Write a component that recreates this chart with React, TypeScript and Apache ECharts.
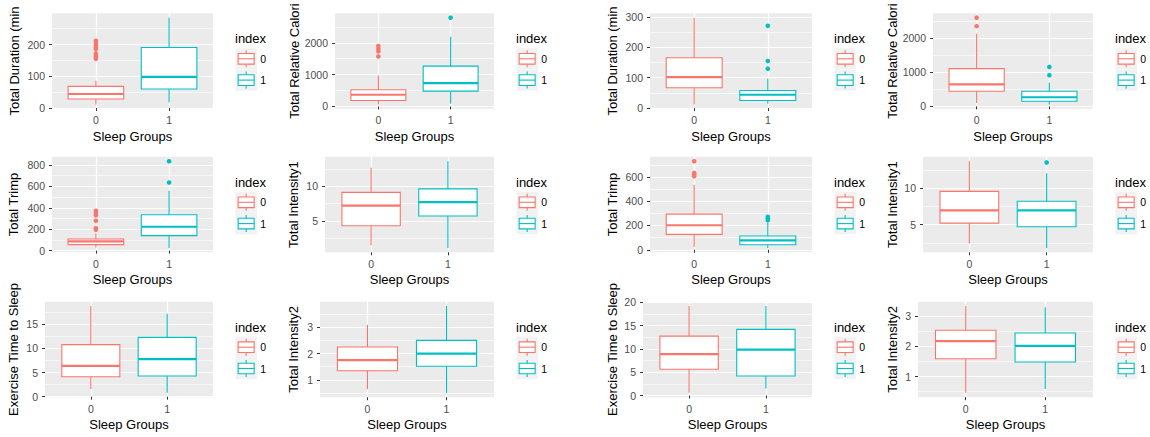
import React, { useEffect, useRef } from "react";
import * as echarts from "echarts";

const FONT = "'Liberation Sans', Arial, sans-serif";
const groupLabels = ["0", "1"];
const xTitle = "Sleep Groups";
const legendTitle = "index";
const colors = ["#F8766D", "#00BFC4"];

// y-axis titles (as visible in the picture)
const yTitles = [
  "Total Duration (min", "Total Relative Calori", "Total Duration (min", "Total Relative Calori",
  "Total Trimp", "Total Intensity1", "Total Trimp", "Total Intensity1",
  "Exercise Time to Sleep", "Total Intensity2", "Exercise Time to Sleep", "Total Intensity2",
];
const tickIntervals = [100, 1000, 100, 1000, 200, 5, 200, 5, 5, 1, 5, 1];

// box stats: [lower whisker, Q1, median, Q3, upper whisker]
const a0 = [11, 28, 44, 68, 86];
const a1 = [18, 60, 98, 191, 285];
const aOut0 = [212, 205, 197, 190, 186, 172, 165, 160, 155];
const aOut1: number[] = [];

const b0 = [63, 189, 368, 525, 975];
const b1 = [85, 481, 733, 1267, 2190];
const bOut0 = [1896, 1814, 1730, 1572];
const bOut1 = [2789];

const c0 = [12, 67, 102, 166, 298];
const c1 = [14, 25, 44, 58, 97];
const cOut0: number[] = [];
const cOut1 = [271, 155, 130];

const d0 = [97, 443, 640, 1102, 2118];
const d1 = [55, 148, 266, 443, 688];
const dOut0 = [2591, 2343];
const dOut1 = [1152, 907];

const e0 = [30, 56, 87, 109, 162];
const e1 = [25, 140, 223, 335, 558];
const eOut0 = [372, 350, 330, 278, 208, 195];
const eOut1 = [835, 636];

const f0 = [1.5, 4.3, 7.2, 9.1, 12.65];
const f1 = [1.1, 5.7, 7.7, 9.6, 13.6];
const fOut0: number[] = [];
const fOut1: number[] = [];

const g0 = [25, 127, 202, 294, 536];
const g1 = [15, 42, 78, 113, 225];
const gOut0 = [730, 633, 619, 605];
const gOut1 = [272, 258, 244];

const h0 = [2.4, 5.2, 6.96, 9.55, 13.7];
const h1 = [1.8, 4.7, 6.96, 8.2, 12.05];
const hOut0: number[] = [];
const hOut1 = [13.5];

const i0 = [1.6, 4.15, 6.4, 10.8, 18.8];
const i1 = [0.8, 4.3, 7.8, 12.3, 17.2];
const iOut0: number[] = [];
const iOut1: number[] = [];

const j0 = [0.65, 1.35, 1.75, 2.25, 3.09];
const j1 = [0.51, 1.52, 2.0, 2.5, 3.8];
const jOut0: number[] = [];
const jOut1: number[] = [];

const k0 = [0.57, 5.65, 8.9, 12.75, 19.2];
const k1 = [1.5, 4.2, 9.85, 14.2, 19.2];
const kOut0: number[] = [];
const kOut1: number[] = [];

const l0 = [0.46, 1.59, 2.17, 2.53, 3.33];
const l1 = [0.59, 1.48, 2.01, 2.44, 3.29];
const lOut0: number[] = [];
const lOut1: number[] = [];

const boxes = [
  [a0, a1], [b0, b1], [c0, c1], [d0, d1],
  [e0, e1], [f0, f1], [g0, g1], [h0, h1],
  [i0, i1], [j0, j1], [k0, k1], [l0, l1],
];
const outliers = [
  [aOut0, aOut1], [bOut0, bOut1], [cOut0, cOut1], [dOut0, dOut1],
  [eOut0, eOut1], [fOut0, fOut1], [gOut0, gOut1], [hOut0, hOut1],
  [iOut0, iOut1], [jOut0, jOut1], [kOut0, kOut1], [lOut0, lOut1],
];

// layout (pixels)
const panelLeft = [52, 335, 650, 933, 52, 325, 650, 923, 45, 320, 643, 918];
const colRight = [213, 494, 812, 1093];
const rowTop = [13.3, 156.8, 301.7];
const panelH = 95.5;
const titleGap = [31, 33, 31, 34, 32, 25, 31, 24, 25, 20, 24, 19];
const BOX_W = 0.76;
const KEY = 21.3;

function round(v: number) {
  return Math.round(v * 1e6) / 1e6;
}

export default function App() {
  const ref = useRef<HTMLDivElement>(null);
  useEffect(() => {
    if (!ref.current) return;
    const chart = echarts.init(ref.current, null, { renderer: "svg" });

    const grids: any[] = [];
    const xAxes: any[] = [];
    const yAxes: any[] = [];
    const series: any[] = [];
    const graphics: any[] = [];

    boxes.forEach((pair, p) => {
      const col = p % 4;
      const row = Math.floor(p / 4);
      const all: number[] = [];
      pair.forEach((b, g) => {
        all.push(b[0], b[4], ...outliers[p][g]);
      });
      const dMin = Math.min(...all);
      const dMax = Math.max(...all);
      const span = dMax - dMin;
      const yMin = dMin - 0.05 * span;
      const yMax = dMax + 0.05 * span;
      const iv = tickIntervals[p];
      const ticks: number[] = [];
      for (let t = Math.ceil(yMin / iv) * iv; t <= yMax + 1e-9; t += iv) ticks.push(round(t));

      grids.push({
        left: panelLeft[p],
        top: rowTop[row],
        width: colRight[col] - panelLeft[p],
        height: panelH,
        show: true,
        backgroundColor: "#EBEBEB",
        borderWidth: 0,
        containLabel: false,
        outerBoundsMode: "none",
      });
      xAxes.push({
        type: "value",
        gridIndex: p,
        min: 0.4,
        max: 2.6,
        axisLine: { show: false },
        axisTick: { show: true, length: 3, lineStyle: { color: "#333333", width: 1 }, customValues: [1, 2] },
        axisLabel: {
          customValues: [1, 2],
          formatter: (v: number) => groupLabels[Math.round(v) - 1],
          color: "#4D4D4D",
          fontSize: 10.5,
          fontFamily: FONT,
          margin: 6,
        },
        splitLine: { show: true, lineStyle: { color: "#FFFFFF", width: 1.2 } },
        name: xTitle,
        nameLocation: "middle",
        nameGap: 21,
        nameTextStyle: { color: "#000000", fontSize: 13, fontFamily: FONT },
      });
      yAxes.push({
        type: "value",
        gridIndex: p,
        min: yMin,
        max: yMax,
        minInterval: iv,
        maxInterval: iv,
        axisLine: { show: false },
        axisTick: { show: true, length: 3, lineStyle: { color: "#333333", width: 1 }, customValues: ticks },
        axisLabel: {
          customValues: ticks,
          formatter: (v: number) => String(round(v)),
          color: "#4D4D4D",
          fontSize: 10.5,
          fontFamily: FONT,
          margin: 7,
        },
        splitLine: { show: true, lineStyle: { color: "#FFFFFF", width: 1.2 } },
        minorTick: { show: false, splitNumber: 2 },
        minorSplitLine: { show: true, lineStyle: { color: "#FFFFFF", width: 0.6 } },
        name: yTitles[p],
        nameLocation: "middle",
        nameGap: titleGap[p],
        nameTextStyle: { color: "#000000", fontSize: 13, fontFamily: FONT },
      });

      series.push({
        type: "custom",
        xAxisIndex: p,
        yAxisIndex: p,
        encode: { x: 0, y: [1, 2, 3, 4, 5] },
        data: pair.map((b, g) => [g + 1, ...b]),
        renderItem: (params: any, api: any) => {
          const x = api.value(0);
          const lo = api.coord([x, api.value(1)]);
          const q1 = api.coord([x, api.value(2)]);
          const md = api.coord([x, api.value(3)]);
          const q3 = api.coord([x, api.value(4)]);
          const hi = api.coord([x, api.value(5)]);
          const w = api.size([BOX_W, 0])[0];
          const c = colors[params.dataIndex];
          const cx = lo[0];
          return {
            type: "group",
            children: [
              { type: "line", shape: { x1: cx, y1: hi[1], x2: cx, y2: q3[1] }, style: { stroke: c, lineWidth: 1.1 } },
              { type: "line", shape: { x1: cx, y1: q1[1], x2: cx, y2: lo[1] }, style: { stroke: c, lineWidth: 1.1 } },
              {
                type: "rect",
                shape: { x: cx - w / 2, y: q3[1], width: w, height: q1[1] - q3[1] },
                style: { fill: "#FFFFFF", stroke: c, lineWidth: 1.1 },
              },
              { type: "line", shape: { x1: cx - w / 2, y1: md[1], x2: cx + w / 2, y2: md[1] }, style: { stroke: c, lineWidth: 2.2 } },
            ],
          };
        },
      });
      outliers[p].forEach((vals, g) => {
        series.push({
          type: "scatter",
          xAxisIndex: p,
          yAxisIndex: p,
          symbol: "circle",
          symbolSize: 4.6,
          itemStyle: { color: colors[g], opacity: 1 },
          data: vals.map((v) => [g + 1, v]),
        });
      });

      // legend (per panel)
      const lx = colRight[col] + 22.5;
      const top = rowTop[row];
      graphics.push({
        type: "text",
        x: lx - 0.5,
        y: top + 25.5,
        style: { text: legendTitle, fontSize: 13, fontFamily: FONT, fill: "#000000", align: "left", verticalAlign: "middle" },
      });
      [0, 1].forEach((g) => {
        const cy = top + 45.5 + g * KEY;
        const by = cy - KEY / 2;
        const cx = lx + KEY / 2;
        graphics.push({ type: "rect", shape: { x: lx, y: by, width: KEY, height: KEY }, style: { fill: "#F2F2F2" } });
        graphics.push({ type: "line", shape: { x1: cx, y1: by + 0.1 * KEY, x2: cx, y2: by + 0.25 * KEY }, style: { stroke: colors[g], lineWidth: 1.1 } });
        graphics.push({ type: "line", shape: { x1: cx, y1: by + 0.75 * KEY, x2: cx, y2: by + 0.9 * KEY }, style: { stroke: colors[g], lineWidth: 1.1 } });
        graphics.push({
          type: "rect",
          shape: { x: lx + 0.125 * KEY, y: by + 0.25 * KEY, width: 0.75 * KEY, height: 0.5 * KEY },
          style: { fill: "#FFFFFF", stroke: colors[g], lineWidth: 1.1 },
        });
        graphics.push({ type: "line", shape: { x1: lx + 0.125 * KEY, y1: cy, x2: lx + 0.875 * KEY, y2: cy }, style: { stroke: colors[g], lineWidth: 1.1 } });
        graphics.push({
          type: "text",
          x: lx + KEY + 3.5,
          y: cy,
          style: { text: groupLabels[g], fontSize: 10.5, fontFamily: FONT, fill: "#000000", align: "left", verticalAlign: "middle" },
        });
      });
    });

    chart.setOption({
      animation: false,
      backgroundColor: "#FFFFFF",
      textStyle: { fontFamily: FONT },
      grid: grids,
      xAxis: xAxes,
      yAxis: yAxes,
      series,
      graphic: graphics,
    });
    return () => chart.dispose();
  }, []);
  return <div ref={ref} style={{ position: "fixed", left: 0, top: 0, width: 1150, height: 437 }} />;
}
